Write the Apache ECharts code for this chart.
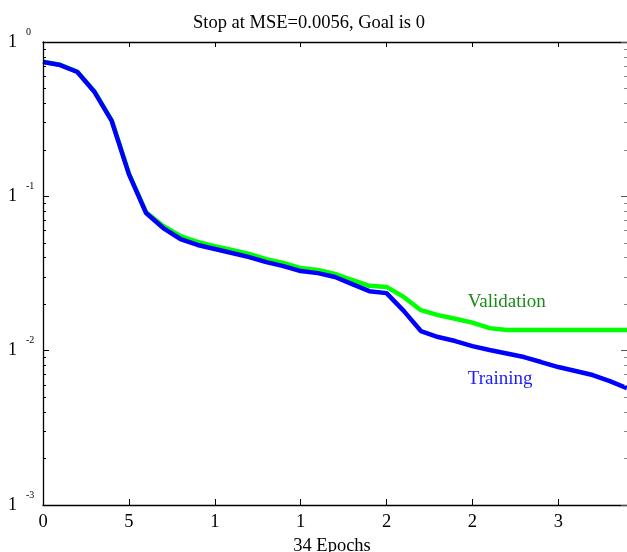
<!DOCTYPE html>
<html>
<head>
<meta charset="utf-8">
<script src="https://cdn.jsdelivr.net/npm/echarts@6/dist/echarts.min.js"></script>
<style>
html,body{margin:0;padding:0;background:#fff;}
#c{width:627px;height:552px;}
</style>
</head>
<body>
<div id="c"></div>
<script>
// ---- data ----
const epochs = [0,1,2,3,4,5,6,7,8,9,10,11,12,13,14,15,16,17,18,19,20,21,22,23,24,25,26,27,28,29,30,31,32,33,34];
const trainingMSE = [0.742,0.709,0.639,0.474,0.308,0.1394,0.0780,0.0623,0.0529,0.0484,0.0456,0.0429,0.0404,0.0375,0.0353,0.0328,0.0318,0.0300,0.0270,0.0243,0.0236,0.0181,0.0134,0.01225,0.01154,0.01071,0.01009,0.00958,0.00909,0.00844,0.00783,0.00738,0.00695,0.00635,0.00572];
const validationMSE = [0.745,0.712,0.642,0.478,0.311,0.1410,0.0790,0.0642,0.0553,0.0506,0.0476,0.0449,0.0423,0.0392,0.0370,0.0343,0.0333,0.0314,0.0287,0.0263,0.0259,0.0223,0.0183,0.0170,0.0161,0.0152,0.0140,0.0136,0.0136,0.0136,0.0136,0.0136,0.0136,0.0136,0.0136];
const xTickValues = [0,5,10,15,20,25,30];
const xTickLabels = ['0','5','1','1','2','2','3'];
const yTickValues = [0.001,0.01,0.1,1];
const yExponents = ['-3','-2','-1','0'];
const yMinorTicks = [0.002,0.003,0.004,0.005,0.006,0.007,0.008,0.009,0.02,0.03,0.04,0.05,0.06,0.07,0.08,0.09,0.2,0.3,0.4,0.5,0.6,0.7,0.8,0.9];
const titleText = 'Stop at MSE=0.0056, Goal is 0';
const xName = '34 Epochs';
const seriesNames = ['Validation','Training'];
const labelAnchors = [[24.7, 0.0207], [24.7, 0.0066]];

const serif = 'Liberation Serif, Times New Roman, serif';
const chart = echarts.init(document.getElementById('c'), null, {renderer:'canvas'});

function yLabel(v){
  let i = yTickValues.findIndex(t => Math.abs(Math.log10(t) - Math.log10(v)) < 1e-6);
  if (i < 0) return '';
  return '{b|1}{s|' + yExponents[i] + '}';
}
function xLabel(v){
  const i = xTickValues.indexOf(v);
  return i < 0 ? '' : xTickLabels[i];
}

const baseY = {type:'log', logBase:10, min:0.001, max:1, splitLine:{show:false}, z:5};

function seriesLabel(i, color){
  return {symbol:'circle', symbolSize:1, itemStyle:{color:'rgba(0,0,0,0)'}, silent:true,
    data:[{coord:labelAnchors[i], value:seriesNames[i]}],
    label:{show:true, formatter:seriesNames[i], position:'right', distance:0,
      fontFamily:serif, fontSize:19, color:color}};
}

chart.setOption({
  animation:false,
  backgroundColor:'#fff',
  title:{text:titleText, left:188, top:9, textStyle:{fontFamily:serif, fontSize:18.5, fontWeight:'normal', color:'#000'}},
  grid:{left:43, right:0, top:42, bottom:47, outerBoundsMode:'none', containLabel:false},
  xAxis:[
    {type:'value', position:'bottom', min:0, max:34, interval:5,
     name:xName, nameLocation:'middle', nameGap:30,
     nameTextStyle:{fontFamily:serif, fontSize:18.5, color:'#000', padding:[0,6,0,0]},
     axisLine:{show:true, lineStyle:{color:'#000', width:1.3}},
     axisTick:{show:true, inside:true, length:6, lineStyle:{color:'#000'}},
     axisLabel:{show:true, margin:8, formatter:xLabel, showMaxLabel:false, fontFamily:serif, fontSize:18.5, color:'#000'},
     splitLine:{show:false}},
    {type:'value', position:'top', min:0, max:34, interval:5,
     axisLine:{show:true, lineStyle:{color:'#000', width:1.3}},
     axisTick:{show:true, inside:true, length:5, lineStyle:{color:'#000'}},
     axisLabel:{show:false}, splitLine:{show:false}}
  ],
  yAxis:[
    Object.assign({}, baseY, {position:'left',
      axisLine:{show:true, lineStyle:{color:'#000', width:1.3}},
      axisTick:{show:true, inside:true, length:6, lineStyle:{color:'#000'}},
      axisLabel:{show:true, align:'left', margin:35, formatter:yLabel,
        rich:{
          b:{fontFamily:serif, fontSize:18, lineHeight:20, color:'#000'},
          s:{fontFamily:serif, fontSize:10, lineHeight:10, padding:[0,0,20,9], color:'#000'}
        }}}),
    Object.assign({}, baseY, {position:'left',
      axisLine:{show:false},
      axisTick:{show:true, inside:true, length:3, customValues:yMinorTicks, lineStyle:{color:'#000'}},
      axisLabel:{show:false}}),
    Object.assign({}, baseY, {position:'right',
      axisLine:{show:false},
      axisTick:{show:true, inside:true, length:6, lineStyle:{color:'#555'}},
      axisLabel:{show:false}}),
    Object.assign({}, baseY, {position:'right',
      axisLine:{show:false},
      axisTick:{show:true, inside:true, length:3, customValues:yMinorTicks, lineStyle:{color:'#888'}},
      axisLabel:{show:false}})
  ],
  series:[
    {name:seriesNames[0], type:'line', xAxisIndex:0, yAxisIndex:0, showSymbol:false, symbol:'none',
     data:epochs.map((e,i)=>[e, validationMSE[i]]),
     lineStyle:{color:'#00ff00', width:4.5}, z:2,
     markPoint:seriesLabel(0, '#1a8a1a')},
    {name:seriesNames[1], type:'line', xAxisIndex:0, yAxisIndex:0, showSymbol:false, symbol:'none',
     data:epochs.map((e,i)=>[e, trainingMSE[i]]),
     lineStyle:{color:'#0000ff', width:4.5}, z:3,
     markPoint:seriesLabel(1, '#1a1aff')}
  ]
});
</script>
</body>
</html>
